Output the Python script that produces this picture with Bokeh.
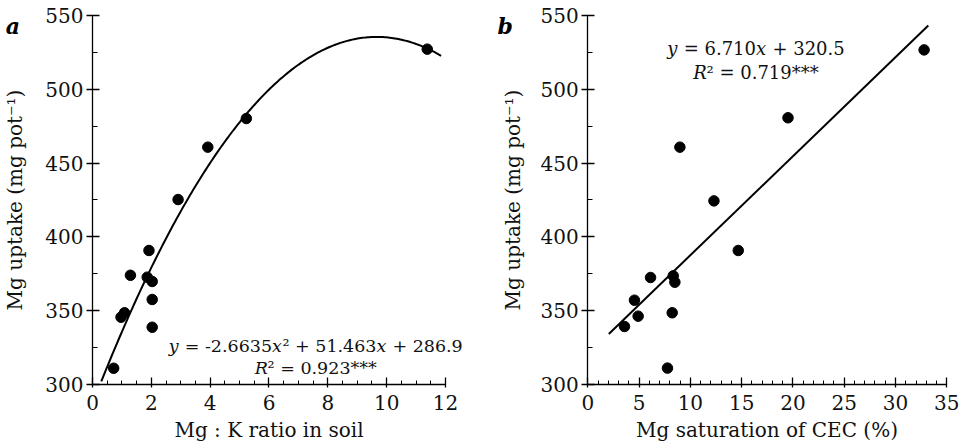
from bokeh.plotting import figure
from bokeh.layouts import row
from bokeh.models import Range1d, Label, SingleIntervalTicker
from bokeh.embed import file_html
from bokeh.resources import INLINE
import numpy as np

# ---- data ----
ratio_mgk = [0.72, 0.97, 1.09, 1.29, 1.92, 1.86, 2.03, 2.03, 2.03, 2.91, 3.92, 5.23, 11.38]
uptake_a = [311.0, 345.6, 348.6, 374.0, 390.8, 372.7, 369.8, 357.6, 338.8, 425.3, 460.8, 480.2, 527.2]

mg_sat = [3.58, 4.55, 4.91, 6.12, 7.77, 8.23, 8.33, 8.49, 8.98, 12.30, 14.67, 19.52, 32.79]
uptake_b = [339.3, 357.1, 346.3, 372.5, 311.1, 348.6, 373.6, 369.3, 460.8, 424.4, 390.8, 480.7, 526.7]

# fitted equations as printed in the chart
quad_coef = [-2.6635, 51.463, 286.9]
quad_xspan = [0.3, 11.85]
lin_coef = [6.710, 320.5]
lin_xspan = [2.05, 33.2]

# equation texts, split into (text, italic) runs
eq_a_line1 = [("y", True), (" = -2.6635", False), ("x", True), ("² + 51.463", False), ("x", True), (" + 286.9", False)]
eq_a_line2 = [("R", True), ("² = 0.923***", False)]
eq_b_line1 = [("y", True), (" = 6.710", False), ("x", True), (" + 320.5", False)]
eq_b_line2 = [("R", True), ("² = 0.719***", False)]

Y_AXIS = (300, 550)

FONT = "DejaVu Serif"
INK = "#111111"

# approximate advance widths (em) of DejaVu Serif, used to lay runs side by side
ADV = {" ": 0.318, "=": 0.838, "+": 0.838, "-": 0.338, ".": 0.318, "*": 0.5, "²": 0.401,
       "y": 0.592, "x": 0.592, "R": 0.734}
for d in "0123456789":
    ADV[d] = 0.636


def run_width(s, size):
    return sum(ADV.get(c, 0.6) for c in s) * size


def add_equation(p, runs, x, y, size):
    total = sum(run_width(t, size) for t, _ in runs)
    off = -total / 2.0
    for t, it in runs:
        lead = len(t) - len(t.lstrip(" "))
        shown = t.strip(" ")
        start = off + run_width(" " * lead, size)
        p.add_layout(Label(x=x, y=y, x_offset=start, text=shown, text_align="left",
                           text_baseline="alphabetic", text_font=FONT,
                           text_font_size=f"{size}px",
                           text_font_style="italic" if it else "normal",
                           text_color=INK))
        off += run_width(t, size)


def style(p, xint, xminor, xbounds, ylabel_standoff):
    p.outline_line_color = None
    p.xgrid.visible = False
    p.ygrid.visible = False
    p.background_fill_color = "white"
    p.border_fill_color = "white"
    p.xaxis.ticker = SingleIntervalTicker(interval=xint, num_minor_ticks=xminor)
    p.yaxis.ticker = SingleIntervalTicker(interval=50, num_minor_ticks=2)
    p.xaxis.bounds = xbounds
    p.yaxis.bounds = Y_AXIS
    # axes cross at the origin of the data, the frame fills the whole canvas
    p.yaxis.fixed_location = xbounds[0]
    p.xaxis.fixed_location = Y_AXIS[0]
    for ax in (p.xaxis, p.yaxis):
        ax.axis_line_color = "black"
        ax.axis_line_width = 1.3
        ax.major_tick_line_color = "black"
        ax.minor_tick_line_color = "black"
        ax.major_tick_line_width = 1.3
        ax.minor_tick_line_width = 1
        ax.major_label_text_font = FONT
        ax.major_label_text_font_size = "20px"
        ax.major_label_text_color = INK
        ax.axis_label_text_font = FONT
        ax.axis_label_text_font_size = "20px"
        ax.axis_label_text_font_style = "normal"
        ax.axis_label_text_color = INK
        ax.minor_tick_out = 0
    p.xaxis.major_tick_in = 7
    p.xaxis.major_tick_out = 3
    p.xaxis.minor_tick_in = 4
    p.xaxis.major_label_standoff = 8
    p.xaxis.axis_label_standoff = 4
    p.yaxis.major_tick_in = 7
    p.yaxis.major_tick_out = 6
    p.yaxis.minor_tick_in = 5
    p.yaxis.major_label_standoff = 3
    p.yaxis.axis_label_standoff = ylabel_standoff


H = 445

# ---- panel a ----
pa = figure(width=480, height=H, output_backend="svg", toolbar_location=None,
            x_range=Range1d(-3.127, 13.19), y_range=Range1d(258.67, 560.16),
            min_border=0,
            x_axis_label="Mg : K ratio in soil", y_axis_label="Mg uptake (mg pot⁻¹)")
style(pa, 2, 4, (0, 12), 15)
xa = np.linspace(quad_xspan[0], quad_xspan[1], 200)
ya = quad_coef[0] * xa ** 2 + quad_coef[1] * xa + quad_coef[2]
pa.line(xa, ya, line_color="black", line_width=2)
pa.scatter(ratio_mgk, uptake_a, size=10.5, fill_color="black", line_color="black")
add_equation(pa, eq_a_line1, 7.59, 326.4, 17.5)
add_equation(pa, eq_a_line2, 7.59, 311.5, 17.5)
pa.add_layout(Label(x=-2.95, y=543.2, text="a", text_align="left", text_baseline="alphabetic",
                    text_font=FONT, text_font_size="22px", text_font_style="bold italic",
                    text_color="black"))

# ---- panel b ----
pb = figure(width=483, height=H, output_backend="svg", toolbar_location=None,
            x_range=Range1d(-10.46, 36.63), y_range=Range1d(258.67, 560.16),
            min_border=0,
            x_axis_label="Mg saturation of CEC (%)", y_axis_label="Mg uptake (mg pot⁻¹)")
style(pb, 5, 5, (0, 35), 12)
xb = np.array(lin_xspan)
yb = lin_coef[0] * xb + lin_coef[1]
pb.line(xb, yb, line_color="black", line_width=2)
pb.scatter(mg_sat, uptake_b, size=10.5, fill_color="black", line_color="black")
add_equation(pb, eq_b_line1, 16.4, 527.6, 18)
add_equation(pb, eq_b_line2, 16.4, 511.4, 18)
pb.add_layout(Label(x=-8.8, y=543.2, text="b", text_align="left", text_baseline="alphabetic",
                    text_font=FONT, text_font_size="22px", text_font_style="bold italic",
                    text_color="black"))

layout = row(pa, pb)
open("out.html", "w").write(file_html(layout, INLINE))
